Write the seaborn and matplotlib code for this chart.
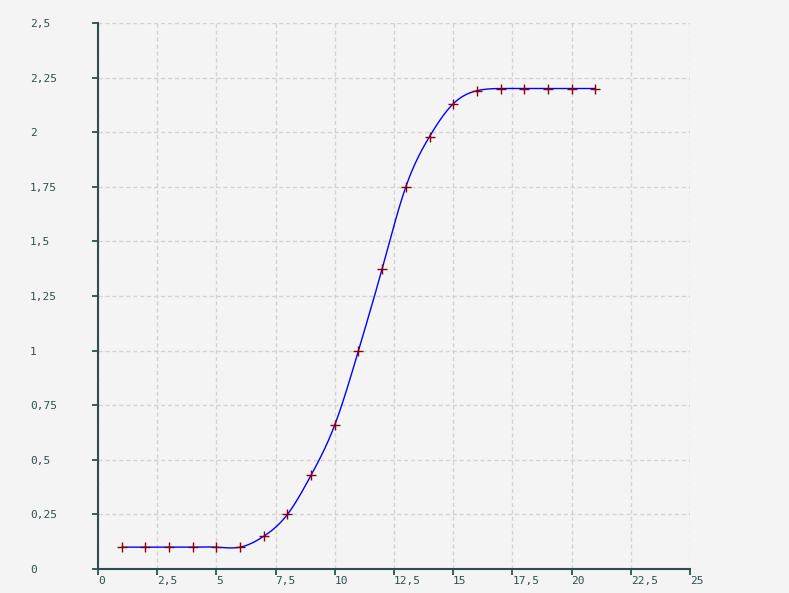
import numpy as np
import pandas as pd
import seaborn as sns
import matplotlib.pyplot as plt

# data
x_vals = [1, 2, 3, 4, 5, 6, 7, 8, 9, 10, 11, 12, 13, 14, 15, 16, 17, 18, 19, 20, 21]
y_vals = [0.1, 0.1, 0.1, 0.1, 0.1, 0.1, 0.15, 0.25, 0.43, 0.66, 1.0, 1.375,
          1.75, 1.98, 2.13, 2.19, 2.2, 2.2, 2.2, 2.2, 2.2]
x_ticks = np.arange(0, 25.01, 2.5)
y_ticks = np.arange(0, 2.501, 0.25)


def natural_spline(x, y, num=400):
    # smooth curve through the points (natural cubic spline)
    x = np.asarray(x, float)
    y = np.asarray(y, float)
    n = len(x)
    h = np.diff(x)
    A = np.zeros((n, n))
    b = np.zeros(n)
    A[0, 0] = 1
    A[-1, -1] = 1
    for i in range(1, n - 1):
        A[i, i - 1] = h[i - 1]
        A[i, i] = 2 * (h[i - 1] + h[i])
        A[i, i + 1] = h[i]
        b[i] = 6 * ((y[i + 1] - y[i]) / h[i] - (y[i] - y[i - 1]) / h[i - 1])
    M = np.linalg.solve(A, b)
    xs = np.linspace(x[0], x[-1], num)
    idx = np.clip(np.searchsorted(x, xs) - 1, 0, n - 2)
    x0, x1 = x[idx], x[idx + 1]
    hh = x1 - x0
    t0, t1 = x1 - xs, xs - x0
    ys = (M[idx] * t0 ** 3 / (6 * hh) + M[idx + 1] * t1 ** 3 / (6 * hh)
          + (y[idx] / hh - M[idx] * hh / 6) * t0
          + (y[idx + 1] / hh - M[idx + 1] * hh / 6) * t1)
    return xs, ys


pts = pd.DataFrame({"x": x_vals, "y": y_vals})
sx, sy = natural_spline(x_vals, y_vals)
curve = pd.DataFrame({"x": sx, "y": sy})

bg = "#f4f4f4"
axis_col = "#2f4f4f"
sns.set_theme(style="white")
plt.rcParams["font.family"] = ["DejaVu Sans Mono"]

fig = plt.figure(figsize=(7.89, 5.93), dpi=100, facecolor=bg)
ax = fig.add_axes([98 / 789, 24 / 593, (690 - 98) / 789, (569 - 23) / 593])
ax.set_facecolor(bg)

sns.lineplot(data=curve, x="x", y="y", ax=ax, color="#0000ff", linewidth=1, sort=False)
sns.scatterplot(data=pts, x="x", y="y", ax=ax, marker="+", color="#8b0000",
                s=45, linewidth=1.0, zorder=5)

ax.set_xlim(0, 25)
ax.set_ylim(0, 2.5)
ax.set_xticks(x_ticks)
ax.set_yticks(y_ticks)
ax.set_xticklabels([f"{v:g}".replace(".", ",") for v in x_ticks], ha="left")
ax.set_yticklabels([f"{v:g}".replace(".", ",") for v in y_ticks], ha="left")
ax.set_xlabel("")
ax.set_ylabel("")

ax.grid(True, color="#d3d3d3", linestyle=(0, (3, 2)), linewidth=1)
ax.set_axisbelow(True)
for s in ["top", "right"]:
    ax.spines[s].set_visible(False)
for s in ["left", "bottom"]:
    ax.spines[s].set_color(axis_col)
    ax.spines[s].set_linewidth(1.5)

ax.tick_params(axis="both", colors=axis_col, labelsize=8, length=4, width=1.3,
               direction="out", left=True, bottom=True)
ax.tick_params(axis="y", pad=45)
ax.tick_params(axis="x", pad=1)

fig.savefig("out.png", dpi=100, facecolor=bg)
